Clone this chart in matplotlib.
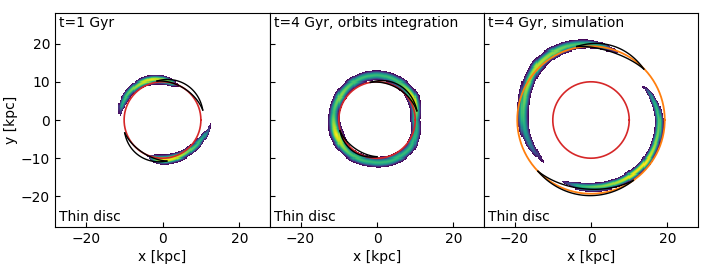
import numpy as np
import matplotlib.pyplot as plt
from matplotlib.colors import LogNorm

titles = ['t=1 Gyr', 't=4 Gyr, orbits integration', 't=4 Gyr, simulation']
disc_label = 'Thin disc'

# stream tracks
# rows: angle [deg], radius [kpc], core width [kpc], log10 counts
t1_upper = [(64, 9.9, 0.16, -0.4), (75, 10.0, 0.24, 2.1), (90, 10.5, 0.27, 2.6),
            (105, 10.9, 0.28, 2.9), (120, 11.1, 0.28, 2.7), (135, 11.2, 0.28, 2.4),
            (150, 11.3, 0.27, 2.1), (162, 11.3, 0.24, 1.7), (174, 11.2, 0.16, -0.4)]
t1_lower = [(246, 10.2, 0.16, -0.4), (258, 10.3, 0.25, 2.3), (270, 10.4, 0.28, 3.0),
            (285, 10.4, 0.28, 2.9), (300, 10.5, 0.28, 2.6), (315, 10.7, 0.28, 2.3),
            (330, 11.2, 0.26, 2.0), (342, 11.8, 0.22, 1.5), (356, 12.6, 0.16, -0.4)]
orbit_ring = [(0, 10.0, 0.33, 2.0), (30, 11.0, 0.36, 3.0), (60, 11.4, 0.36, 2.1),
              (90, 11.7, 0.36, 2.0), (120, 11.6, 0.36, 2.1), (145, 11.4, 0.36, 2.5),
              (170, 11.4, 0.36, 2.1), (200, 11.2, 0.40, 3.0), (230, 11.3, 0.36, 2.2),
              (260, 11.0, 0.36, 2.0), (290, 11.2, 0.36, 2.0), (320, 11.3, 0.36, 2.0),
              (345, 10.6, 0.33, 1.9), (360, 10.0, 0.33, 2.0)]
sim_upper = [(68, 19.0, 0.18, -0.4), (80, 19.4, 0.28, 1.7), (92, 19.9, 0.32, 2.0),
             (105, 20.2, 0.35, 2.2), (120, 20.2, 0.38, 2.5), (135, 19.9, 0.38, 2.7),
             (150, 19.0, 0.38, 2.6), (165, 18.2, 0.38, 2.3), (180, 17.8, 0.38, 2.0),
             (195, 17.4, 0.35, 1.5), (205, 17.0, 0.32, 1.1), (222, 16.5, 0.30, -0.4)]
sim_lower = [(244, 17.7, 0.18, -0.4), (258, 17.6, 0.26, 1.9), (272, 17.6, 0.28, 2.3),
             (290, 17.7, 0.28, 2.6), (305, 17.9, 0.28, 2.9), (322, 18.1, 0.28, 3.0),
             (340, 18.0, 0.28, 2.5), (360, 17.9, 0.27, 2.2), (375, 17.3, 0.25, 1.9),
             (384, 16.8, 0.22, 1.3), (394, 16.2, 0.20, -0.4)]

# black crescents: angle1, r1, angle2, r2, inner dip, outer bulge
crescents = [
    [(98, 10.3, 14, 10.8, 0.55, 0.55), (199, 10.4, 276, 10.8, 0.65, 0.55)],
    [(100, 10.0, 13, 10.7, 0.45, 0.45), (196, 10.1, 270, 9.6, 0.45, 0.45)],
    [(101, 19.6, 44, 19.2, 0.8, 0.8), (224, 19.3, 305, 19.3, 1.2, 0.5)],
]
streams = [[t1_upper, t1_lower], [orbit_ring], [sim_upper, sim_lower]]
r_red = 10.0
r_orange = 19.3

edges = np.arange(-28, 28.01, 0.28)
xc = 0.5 * (edges[1:] + edges[:-1])
X, Y = np.meshgrid(xc, xc)
R = np.hypot(X, Y)
PHI = np.degrees(np.arctan2(Y, X))


def stream_map(track, periodic=False):
    t = np.array(track, float)
    a0 = t[0, 0]
    ang = (PHI - a0) % 360 + a0
    per = 360 if periodic else None
    rc = np.interp(ang, t[:, 0], t[:, 1], period=per)
    w = np.interp(ang, t[:, 0], t[:, 2], period=per)
    lv = np.interp(ang, t[:, 0], t[:, 3], period=per)
    if periodic:
        inside = np.ones_like(ang, bool)
    else:
        inside = (ang >= t[0, 0]) & (ang <= t[-1, 0])
    core = 10 ** lv * np.exp(-0.5 * ((R - rc) / w) ** 2)
    halo = 10 ** (0.25 * lv - 0.1) * np.exp(-0.5 * ((R - rc) / (2.8 * w)) ** 2)
    return np.where(inside, core + halo, 0.0)


fig = plt.figure(figsize=(7.05, 2.72), dpi=100)
xs = [55, 270, 484, 698]
for k in range(3):
    ax = fig.add_axes([xs[k] / 705, 45 / 272, (xs[k + 1] - xs[k]) / 705, 214 / 272])
    H = np.zeros_like(R)
    for tr in streams[k]:
        H += stream_map(tr, periodic=(k == 1))
    H = np.ma.masked_less(H, 1.0)
    ax.pcolormesh(edges, edges, H, cmap='viridis', norm=LogNorm(1, 1000), zorder=1)

    th = np.linspace(0, 2 * np.pi, 300)
    ax.plot(r_red * np.cos(th), r_red * np.sin(th), color='tab:red', lw=1.2, zorder=3)
    if k == 2:
        ax.plot(r_orange * np.cos(th), r_orange * np.sin(th), color='tab:orange', lw=1.3, zorder=3)
    for a1, r1, a2, r2, din, dout in crescents[k]:
        s = np.linspace(0, 1, 120)
        a = np.radians(a1 + (a2 - a1) * s)
        base = r1 + (r2 - r1) * s
        for d in (-din, dout):
            rr = base + d * np.sin(np.pi * s)
            ax.plot(rr * np.cos(a), rr * np.sin(a), color='k', lw=1.0, zorder=4)

    ax.set_xlim(-28, 28)
    ax.set_ylim(-28, 28)
    ax.set_xticks([-20, 0, 20])
    ax.set_yticks([-20, -10, 0, 10, 20])
    ax.tick_params(direction='in', labelsize=10)
    ax.set_xlabel('x [kpc]', fontsize=10, labelpad=3)
    if k == 0:
        ax.set_ylabel('y [kpc]', fontsize=10, labelpad=2)
    else:
        ax.set_yticklabels([])
    ax.text(0.02, 0.985, titles[k], transform=ax.transAxes, ha='left', va='top', fontsize=10)
    ax.text(0.02, 0.015, disc_label, transform=ax.transAxes, ha='left', va='bottom', fontsize=10)

fig.savefig('out.png', dpi=100)
